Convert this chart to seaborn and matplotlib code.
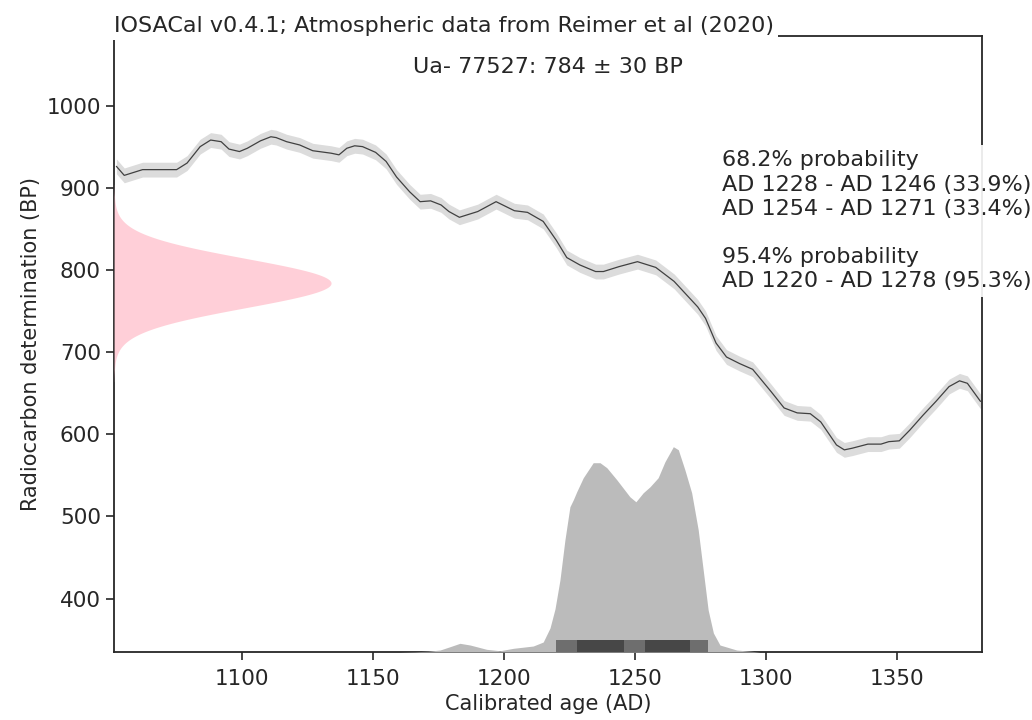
import numpy as np
import pandas as pd
import seaborn as sns
import matplotlib
matplotlib.use("Agg")
import matplotlib.pyplot as plt

TITLE = "IOSACal v0.4.1; Atmospheric data from Reimer et al (2020)"
SAMPLE = "Ua- 77527"
DATE_BP = 784
DATE_SIGMA = 30

# calibration curve (AD, BP), 1 sigma band
curve_years = [1052, 1055, 1062, 1075, 1079, 1084, 1088, 1092, 1095, 1099,
               1102, 1107, 1111, 1113, 1117, 1122, 1127, 1134, 1137, 1140,
               1143, 1146, 1151, 1155, 1159, 1164, 1168, 1172, 1176, 1179,
               1183, 1190, 1197, 1204, 1209, 1215, 1220, 1224, 1229, 1235,
               1238, 1244, 1251, 1258, 1265, 1274, 1277, 1281, 1285, 1290,
               1295, 1302, 1307, 1312, 1317, 1321, 1327, 1330, 1333, 1339,
               1344, 1347, 1351, 1355, 1360, 1365, 1370, 1374, 1377, 1382]
curve_bp = [926, 915, 922, 922, 930, 950, 958, 956, 947, 944,
            948, 957, 962, 961, 956, 952, 945, 942, 940, 948,
            951, 950, 943, 932, 913, 895, 883, 884, 879, 871,
            864, 871, 883, 872, 870, 859, 836, 815, 806, 798,
            798, 804, 810, 803, 786, 755, 741, 711, 694, 686,
            679, 652, 632, 626, 625, 615, 587, 581, 583, 588,
            588, 591, 592, 605, 623, 640, 658, 665, 662, 640]
CURVE_SIGMA = 9

# calibrated age distribution (relative density)
cal_years = [1160, 1166, 1171, 1175.6, 1179.4, 1183.2, 1187.1, 1193.4, 1198.5,
             1203.6, 1211.2, 1215.0, 1217.6, 1219.5, 1221.4, 1223.3, 1225.2,
             1226.5, 1227.8, 1230.3, 1234.1, 1236.7, 1239.3, 1243.1, 1248.1,
             1250.4, 1253.2, 1255.8, 1258.9, 1261.5, 1264.7, 1266.6, 1269.1,
             1271.7, 1274.2, 1276.1, 1278.0, 1280.0, 1282.5, 1288.9, 1297.8]
cal_density = [0, 0.3, 0.8, 2, 5.3, 8.7, 7, 2.7, 1.3,
               3.7, 6, 10, 24, 43, 72, 112, 145,
               152, 160, 174, 189, 189, 184, 172, 155,
               150, 159, 165, 174, 190, 205, 202, 182,
               159, 122, 82, 42, 19, 7, 2, 0]

# highest density ranges
hpd_68 = [(1228, 1246), (1254, 1271)]
hpd_68_pct = [33.9, 33.4]
hpd_95 = [(1220, 1278)]
hpd_95_pct = [95.3]

x_ticks = [1100, 1150, 1200, 1250, 1300, 1350]
y_ticks = [400, 500, 600, 700, 800, 900, 1000]


def range_text(label, ranges, pcts):
    '''
    builds the text block for one probability level
    '''
    lines = [label]
    for (a, b), p in zip(ranges, pcts):
        lines.append("AD %d - AD %d (%.1f%%)" % (a, b, p))
    return "\n".join(lines)


def main():
    sns.set_theme(style="ticks")
    plt.rcParams['font.family'] = ['DejaVu Sans']

    fig = plt.figure(figsize=(10.32, 7.2), dpi=100)
    ax = fig.add_axes([0.1105, 0.0944, 0.8411, 0.8556])

    curve = pd.DataFrame({'year': curve_years, 'bp': curve_bp})
    ax.fill_between(curve['year'], curve['bp'] + CURVE_SIGMA,
                    curve['bp'] - CURVE_SIGMA, color='#dcdcdc', lw=0)
    sns.lineplot(data=curve, x='year', y='bp', ax=ax, color='#404040', lw=0.9)

    ax.set_xlim(1051.1, 1382.6)
    ax.set_ylim(335, 1084.6)
    ax.set_xticks(x_ticks)
    ax.set_yticks(y_ticks)
    ax.tick_params(labelsize=15.5, length=6, width=1.2, color='#262626')
    ax.tick_params(axis='x', pad=6)
    for s in ax.spines.values():
        s.set_linewidth(1.3)
        s.set_color('#262626')
    ax.set_xlabel("Calibrated age (AD)", fontsize=15)
    ax.set_ylabel("Radiocarbon determination (BP)", fontsize=15)

    # calibrated distribution on a twin y axis
    ax2 = ax.twinx()
    ax2.fill_between(cal_years, 0, cal_density, color='#bbbbbb', lw=0)
    for a, b in hpd_95:
        ax2.axvspan(a, b, ymin=0, ymax=0.02, color='#6e6e6e', lw=0)
    for a, b in hpd_68:
        ax2.axvspan(a, b, ymin=0, ymax=0.02, color='#474747', lw=0)
    ax2.set_ylim(0, max(cal_density) * 3)
    ax2.axis('off')

    # radiocarbon date on a twin x axis
    ax3 = ax.twiny()
    bp_grid = np.linspace(DATE_BP - 4 * DATE_SIGMA, DATE_BP + 4 * DATE_SIGMA, 300)
    pdf = np.exp(-0.5 * ((bp_grid - DATE_BP) / DATE_SIGMA) ** 2)
    ax3.fill_betweenx(bp_grid, 0, pdf, color='pink', alpha=0.75, lw=0)
    ax3.set_xlim(0, pdf.max() * 4)
    ax3.axis('off')

    box = dict(facecolor='white', alpha=0.9, lw=0)
    ax3.text(0.0, 1.0, TITLE, transform=ax3.transAxes, ha='left', va='bottom',
             fontsize=16, color='#262626', clip_on=False,
             bbox=dict(facecolor='white', lw=0, pad=3))
    ax3.text(0.5, 0.95, "%s: %d ± %d BP" % (SAMPLE, DATE_BP, DATE_SIGMA),
             transform=ax3.transAxes, ha='center', va='center',
             fontsize=16, color='#262626', bbox=box)
    block = range_text("68.2% probability", hpd_68, hpd_68_pct) + "\n\n" + \
        range_text("95.4% probability", hpd_95, hpd_95_pct)
    ax3.text(0.7, 0.7, block, transform=ax3.transAxes, ha='left', va='center',
             fontsize=16, color='#262626', bbox=box, clip_on=False,
             linespacing=1.26)

    fig.savefig("out.png", dpi=100)


main()
